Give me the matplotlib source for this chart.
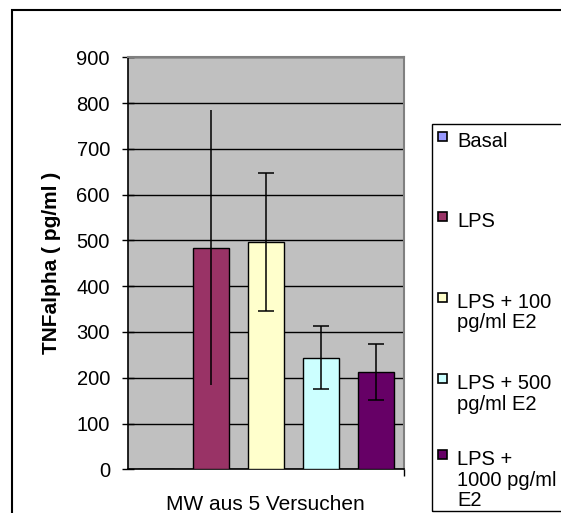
import matplotlib
matplotlib.use("Agg")
import matplotlib.pyplot as plt
from matplotlib.patches import Rectangle
import numpy as np

plt.rcParams['font.family'] = ['Liberation Sans', 'DejaVu Sans']

# data
groups = ["Basal", "LPS", "LPS + 100\npg/ml E2", "LPS + 500\npg/ml E2", "LPS +\n1000 pg/ml\nE2"]
means = [0, 484, 496, 244, 213]
errors = [0, 300, 151, 68, 61]
colors = ["#9999FF", "#993366", "#FFFFCC", "#CCFFFF", "#660066"]
yticks = [0, 100, 200, 300, 400, 500, 600, 700, 800, 900]

W, H = 561, 513
FS = 14.5
fig = plt.figure(figsize=(W / 100, H / 100), dpi=100)


def fx(px):
    return px / W


def fy(py):
    return 1 - py / H


# outer chart frame (runs off the right and bottom edge)
fig.patches.append(Rectangle((fx(12), -0.1), 1.0, fy(9.5) + 0.1, transform=fig.transFigure,
                             fill=False, edgecolor="black", linewidth=1.5))

ax = fig.add_axes([fx(128), fy(469.3), (404 - 128) / W, (469.3 - 57.3) / H])
ax.set_facecolor("#C0C0C0")

x = np.arange(len(groups))
ax.bar(x, means, width=0.65, color=colors, edgecolor="black", linewidth=1, zorder=3)
# LPS bar shows no caps in the original
ax.errorbar(x[1:2], means[1:2], yerr=errors[1:2], fmt="none", ecolor="black",
            elinewidth=1.1, capsize=0, zorder=4)
ax.errorbar(x[2:], means[2:], yerr=errors[2:], fmt="none", ecolor="black",
            elinewidth=1.1, capsize=5.8, capthick=1.1, zorder=4)

ax.set_xlim(-0.5, len(groups) - 0.5)
ax.set_ylim(0, 900)
ax.set_yticks(yticks)
ax.yaxis.grid(True, color="black", linewidth=1, zorder=1)
ax.set_axisbelow(True)
ax.tick_params(axis="y", direction="inout", length=9, width=1, labelsize=FS, pad=8.5)
ax.set_xticks([len(groups) - 0.5])
ax.set_xticklabels([""])
ax.tick_params(axis="x", direction="out", length=5, width=1)
for side in ["top", "right"]:
    ax.spines[side].set_color("#808080")
    ax.spines[side].set_linewidth(1.5)
for side in ["left", "bottom"]:
    ax.spines[side].set_color("black")
    ax.spines[side].set_linewidth(1.2)

fig.text(fx(52), fy(263), "TNFalpha ( pg/ml )", rotation=90, ha="center", va="center",
         fontsize=15, fontweight="bold")
fig.text(fx(265.5), fy(510), "MW aus 5 Versuchen", ha="center", va="baseline", fontsize=15)

# legend box drawn by hand to keep the wrapped labels
fig.patches.append(Rectangle((fx(432), fy(511)), 0.5, (511 - 123.5) / H, transform=fig.transFigure,
                             fill=False, edgecolor="black", linewidth=1))
first_line = [140, 220, 301, 382, 458]
line_h = 20.5
for lab, col, yy in zip(groups, colors, first_line):
    fig.patches.append(Rectangle((fx(438), fy(yy + 1)), 9 / W, 9 / H, transform=fig.transFigure,
                                 facecolor=col, edgecolor="black", linewidth=1.2))
    for i, part in enumerate(lab.split("\n")):
        fig.text(fx(457), fy(yy + 7 + i * line_h), part, ha="left", va="baseline", fontsize=FS)

fig.savefig("out.png", dpi=100)
